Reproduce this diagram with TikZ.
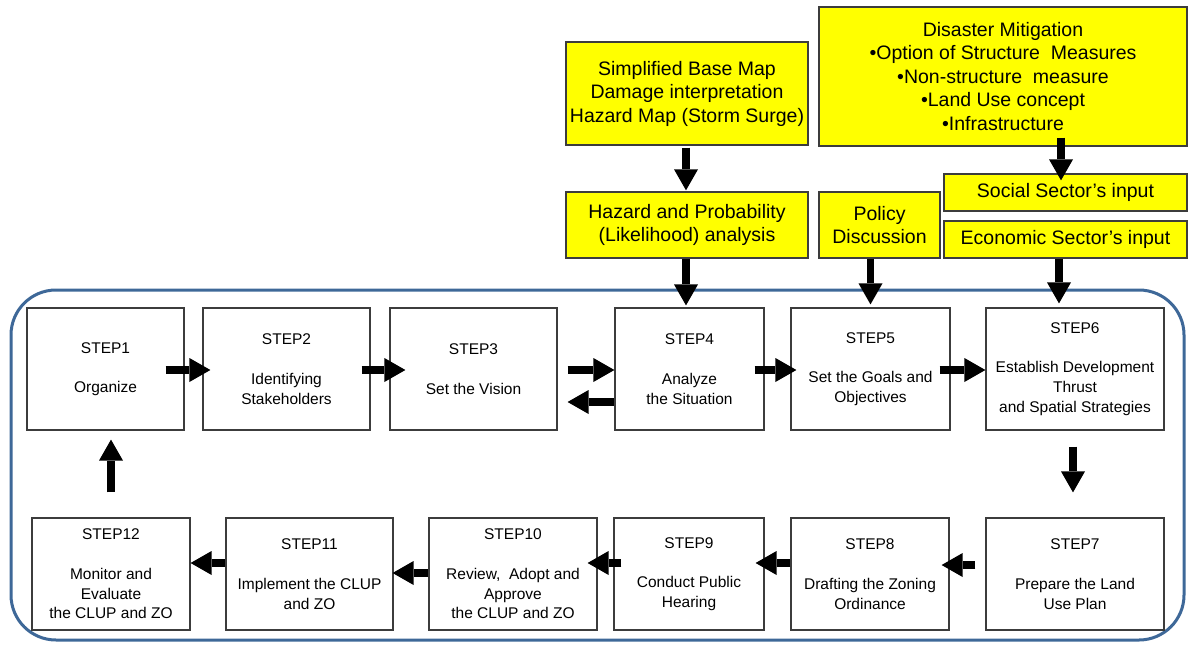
\documentclass[tikz,border=0pt]{standalone}
\usepackage{fontspec}
\setmainfont{Liberation Sans}
\usetikzlibrary{arrows.meta,calc}
\definecolor{frameblue}{RGB}{62,104,152}
\definecolor{boxline}{RGB}{60,60,60}
\definecolor{inputyellow}{RGB}{255,255,0}

\begin{document}
\begin{tikzpicture}[x=1pt,y=-1pt,
  stepbox/.style={draw=boxline, line width=1.2pt, fill=white, align=center,
    inner sep=0pt, font=\fontsize{15.5}{19.8}\selectfont},
  inbox/.style={draw=boxline, line width=1.3pt, fill=inputyellow, align=center,
    inner sep=0pt, font=\fontsize{19.5}{23.5}\selectfont},
  flow/.style={line width=7.5pt, -{Triangle[length=21pt,width=24pt,line width=0pt]}},
]
\useasboundingbox (0,0) rectangle (1189,646);

% planning cycle frame
\draw[frameblue, line width=3pt, rounded corners=45pt] (11,290) rectangle (1184,640);

% external inputs
\node[inbox, minimum width=242, minimum height=103] (base) at (687,93.5)
  {Simplified Base Map\\Damage interpretation\\Hazard Map (Storm  Surge)};
\node[inbox, minimum width=368, minimum height=139] (dis) at (1003,76.5)
  {Disaster Mitigation\\•Option of Structure~ Measures\\•Non-structure~ measure\\•Land Use concept\\•Infrastructure};
\node[inbox, minimum width=242, minimum height=66] (haz) at (687,225)
  {Hazard and Probability\\(Likelihood) analysis};
\node[inbox, minimum width=121, minimum height=66] (pol) at (879.5,225)
  {Policy\\Discussion};
\node[inbox, minimum width=243, minimum height=37] (soc) at (1065.5,192.5)
  {Social Sector’s input};
\node[inbox, minimum width=243, minimum height=37] (eco) at (1065.5,239.5)
  {Economic Sector’s input};

% steps, top row
\node[stepbox, minimum width=157, minimum height=122] (s1) at (105.5,369)
  {STEP1\\\mbox{}\\Organize};
\node[stepbox, minimum width=167, minimum height=122] (s2) at (286.5,369)
  {STEP2\\\mbox{}\\Identifying\\Stakeholders};
\node[stepbox, minimum width=167, minimum height=122] (s3) at (473.5,369)
  {STEP3\\\mbox{}\\Set the Vision};
\node[stepbox, minimum width=149, minimum height=122] (s4) at (689.5,369)
  {STEP4\\\mbox{}\\Analyze\\the Situation};
\node[stepbox, minimum width=159, minimum height=122] (s5) at (870.5,369)
  {STEP5\\\mbox{}\\Set the Goals and\\Objectives};
\node[stepbox, minimum width=178, minimum height=122] (s6) at (1075,369)
  {STEP6\\\mbox{}\\Establish Development\\Thrust\\and Spatial Strategies};

% steps, bottom row
\node[stepbox, minimum width=178, minimum height=112] (s7) at (1075,574)
  {STEP7\\\mbox{}\\Prepare the Land\\Use Plan};
\node[stepbox, minimum width=158, minimum height=112] (s8) at (870,574)
  {STEP8\\\mbox{}\\Drafting the Zoning\\Ordinance};
\node[stepbox, minimum width=150, minimum height=112] (s9) at (689,574)
  {STEP9\\\mbox{}\\Conduct Public\\Hearing};
\node[stepbox, minimum width=168, minimum height=112] (s10) at (513,574)
  {STEP10\\\mbox{}\\Review,~ Adopt and\\Approve\\the CLUP and ZO};
\node[stepbox, minimum width=167, minimum height=112] (s11) at (309.5,574)
  {STEP11\\\mbox{}\\Implement the CLUP\\and ZO};
\node[stepbox, minimum width=158, minimum height=112] (s12) at (111,574)
  {STEP12\\\mbox{}\\Monitor and\\Evaluate\\the CLUP and ZO};

% inputs feeding the steps
\draw[flow] ($(base.south)+(-1,2)$) -- ($(haz.north)+(-1,-1)$);
\draw[flow] ($(dis.south)+(58,-9)$) -- ($(soc.north)+(-4.5,7)$);
\draw[flow] ($(haz.south)+(-1,0)$) -- ($(s4.north)+(-3.5,-2)$);
\draw[flow] (pol.south -| s5.north) -- ($(s5.north)+(0,-3)$);
\draw[flow] ($(eco.south)+(-6.5,0)$) -- ($(s6.north)+(-16,-4)$);

% step sequence
\draw[flow] ($(s1.east)+(-19,1)$) -- ($(s2.west)+(8,1)$);
\draw[flow] ($(s2.east)+(-9,1)$) -- ($(s3.west)+(16,1)$);
\draw[flow] ($(s3.east)+(10,1)$) -- ($(s4.west)+(0,1)$);
\draw[flow] ($(s4.west)+(0,33)$) -- ($(s3.east)+(10,33)$);
\draw[flow] ($(s4.east)+(-10,1)$) -- ($(s5.west)+(6,1)$);
\draw[flow] ($(s5.east)+(-11,1)$) -- ($(s6.west)+(0,1)$);
\draw[flow] ($(s6.south)+(-2,16)$) -- ($(s7.north)+(-2,-25)$);
\draw[flow] ($(s7.west)+(-10,-9)$) -- ($(s8.east)+(-8,-9)$);
\draw[flow] ($(s8.west)+(0,-11)$) -- ($(s9.east)+(-9,-11)$);
\draw[flow] ($(s9.west)+(8,-11)$) -- ($(s10.east)+(-10,-11)$);
\draw[flow] ($(s10.west)+(0,-1)$) -- ($(s11.east)+(-1,-1)$);
\draw[flow] ($(s11.west)+(0,-11)$) -- ($(s12.east)+(0,-11)$);
\draw[flow] ($(s12.north)+(0,-25)$) -- ($(s1.south)+(5.5,9)$);
\end{tikzpicture}
\end{document}
